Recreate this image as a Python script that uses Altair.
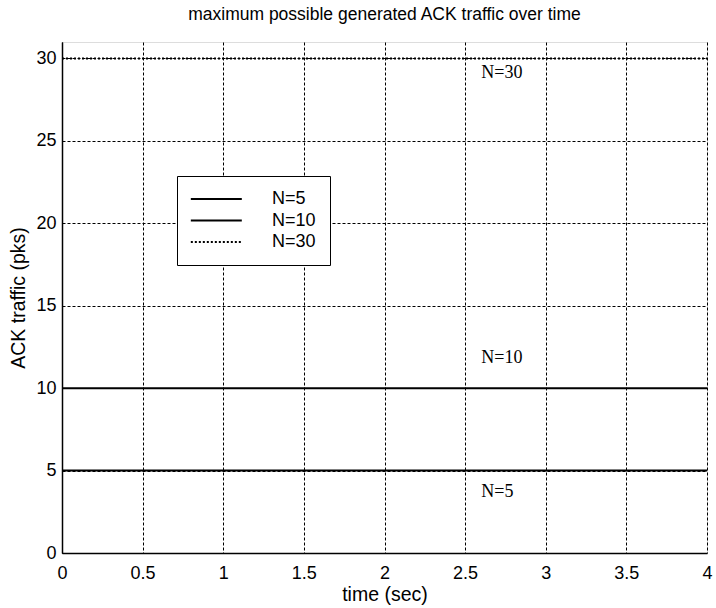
import altair as alt
import pandas as pd

# data
time_pts = [0, 4]
series_names = ["N=5", "N=10", "N=30"]
values_n5 = [5, 5]
values_n10 = [10, 10]
values_n30 = [30, 30]

x_ticks = [0, 0.5, 1, 1.5, 2, 2.5, 3, 3.5, 4]
y_ticks = [0, 5, 10, 15, 20, 25, 30]

label_text = ["N=30", "N=10", "N=5"]
label_x = [2.6, 2.6, 2.6]
label_y = [29.1, 11.8, 3.7]

rows = []
for name, vals in zip(series_names, [values_n5, values_n10, values_n30]):
    for t, v in zip(time_pts, vals):
        rows.append({"time": t, "traffic": v, "series": name})
df = pd.DataFrame(rows)
lab = pd.DataFrame({"text": label_text, "x": label_x, "y": label_y})

SANS = "Liberation Sans"

xscale = alt.Scale(domain=[0, 4], nice=False, zero=False)
yscale = alt.Scale(domain=[0, 31], nice=False)

common = dict(grid=True, gridColor="black", gridDash=[3, 2], gridWidth=1, gridOpacity=1,
              tickSize=0, labelFontSize=18, labelFont=SANS, labelColor="black",
              titleFont=SANS, titleFontSize=19.5, titleFontWeight="normal",
              titleColor="black", domainColor="black", domainWidth=1.5)

xaxis = alt.Axis(values=x_ticks, title="time (sec)", format="~g", labelPadding=11,
                 titlePadding=3, labelFlush=False, **common)
yaxis = alt.Axis(values=y_ticks, title="ACK traffic (pks)", format="~g", labelPadding=6,
                 titlePadding=7, **common)

lines = alt.Chart(df).mark_line(color="black").encode(
    x=alt.X("time:Q", scale=xscale, axis=xaxis),
    y=alt.Y("traffic:Q", scale=yscale, axis=yaxis),
    strokeDash=alt.StrokeDash("series:N",
                              scale=alt.Scale(domain=series_names, range=[[1, 0], [1, 0], [2, 2]]),
                              legend=alt.Legend(title=None, orient="none", legendX=115, legendY=134,
                                                fillColor="white", strokeColor="black",
                                                padding=14, symbolType="M-1.8,0H8.2", symbolSize=104,
                                                symbolStrokeColor="black", symbolStrokeWidth=1.8,
                                                labelFont=SANS, labelFontSize=18, labelColor="black",
                                                labelOffset=63, rowPadding=3.5)),
    strokeWidth=alt.StrokeWidth("series:N",
                                scale=alt.Scale(domain=series_names, range=[2, 2, 1]),
                                legend=None),
    detail="series:N",
)

texts = alt.Chart(lab).mark_text(font="Liberation Serif", fontSize=18, align="left",
                                 baseline="middle", color="black").encode(
    x=alt.X("x:Q", scale=xscale),
    y=alt.Y("y:Q", scale=yscale),
    text="text:N",
)

chart = alt.layer(lines, texts).properties(
    width=645, height=511,
    title=alt.Title("maximum possible generated ACK traffic over time", font=SANS,
                    fontSize=17.5, fontWeight="normal", color="black", offset=19, anchor="middle"),
    autosize=alt.AutoSizeParams(type="none"),
    padding={"left": 62, "top": 42, "right": 9, "bottom": 55},
).configure_view(stroke="black", strokeWidth=1.5).configure(background="white")

chart.save("out.html", embed_options={"renderer": "svg", "actions": False})
